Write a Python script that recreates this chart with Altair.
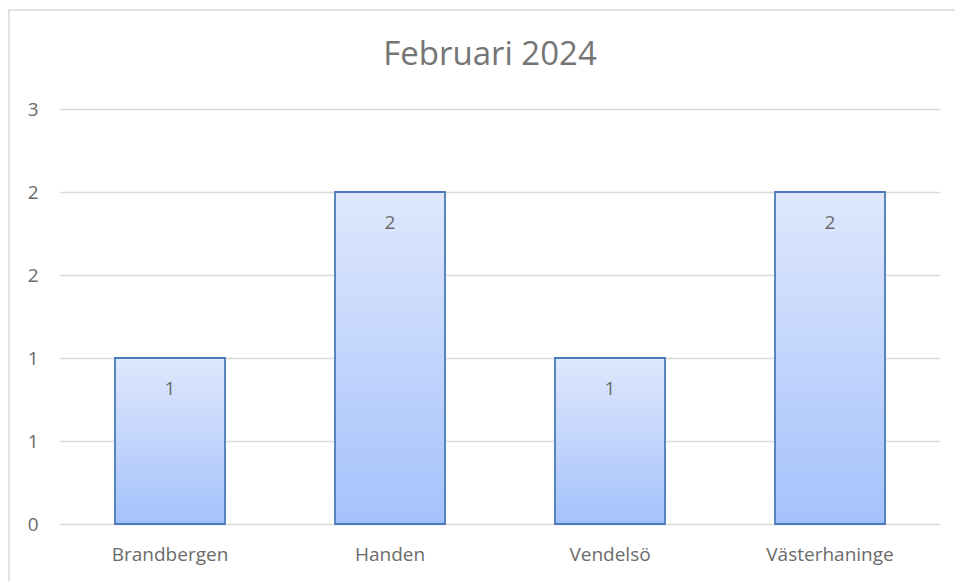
import altair as alt
import pandas as pd

categories = ["Brandbergen", "Handen", "Vendelsö", "Västerhaninge"]
values = [1, 2, 1, 2]
y_ticks = [0, 0.5, 1, 1.5, 2, 2.5]
title_text = "Februari 2024"

df = pd.DataFrame({"plats": categories, "antal": values})

FONT = "Open Sans"
TXT = "#6b6b6b"

x_enc = alt.X(
    "plats:N",
    sort=categories,
    title=None,
    scale=alt.Scale(paddingInner=0.5, paddingOuter=0.25),
    axis=alt.Axis(
        labelAngle=0, labelFont=FONT, labelFontSize=19, labelColor=TXT,
        labelPadding=21, ticks=False, domain=False, grid=False,
    ),
)
y_enc = alt.Y(
    "antal:Q",
    title=None,
    scale=alt.Scale(domain=[0, 2.5], nice=False),
    axis=alt.Axis(
        values=y_ticks, format=".0f", labelFont=FONT, labelFontSize=19,
        labelColor=TXT, labelPadding=22, ticks=False, domain=False,
        grid=True, gridColor="#d9d9d9", gridWidth=1.3,
    ),
)

gradient = alt.Gradient(
    gradient="linear",
    stops=[
        alt.GradientStop(color="#dfe8fd", offset=0),
        alt.GradientStop(color="#a4c2fb", offset=1),
    ],
    x1=0, x2=0, y1=0, y2=1,
)

bars = alt.Chart(df).mark_bar(
    color=gradient, stroke="#4a7ab9", strokeWidth=1.8
).encode(x=x_enc, y=y_enc)

labels = alt.Chart(df).mark_text(
    font=FONT, fontSize=19, color=TXT, baseline="middle", dy=31
).encode(x=alt.X("plats:N", sort=categories), y="antal:Q", text=alt.Text("antal:Q", format=".0f"))

frame = alt.Chart(alt.Data(values=[{}])).mark_rect(
    fill=None, stroke="#d9d9d9", strokeWidth=1.5, clip=False
).encode(
    x=alt.value(-51), x2=alt.value(1000), y=alt.value(-99), y2=alt.value(700)
)

title = alt.Chart(alt.Data(values=[{"t": title_text}])).mark_text(
    font=FONT, fontSize=33, color="#757575", baseline="alphabetic", align="center"
).encode(x=alt.value(430), y=alt.value(-44), text="t:N")

chart = alt.layer(frame, bars, labels, title).properties(
    width=880,
    height=415,
    padding={"left": 60, "top": 109, "right": 15, "bottom": 57},
    autosize=alt.AutoSizeParams(type="none"),
    background="white",
).configure_view(stroke=None)

chart.save("out.html", embed_options={"renderer": "svg", "actions": False})
